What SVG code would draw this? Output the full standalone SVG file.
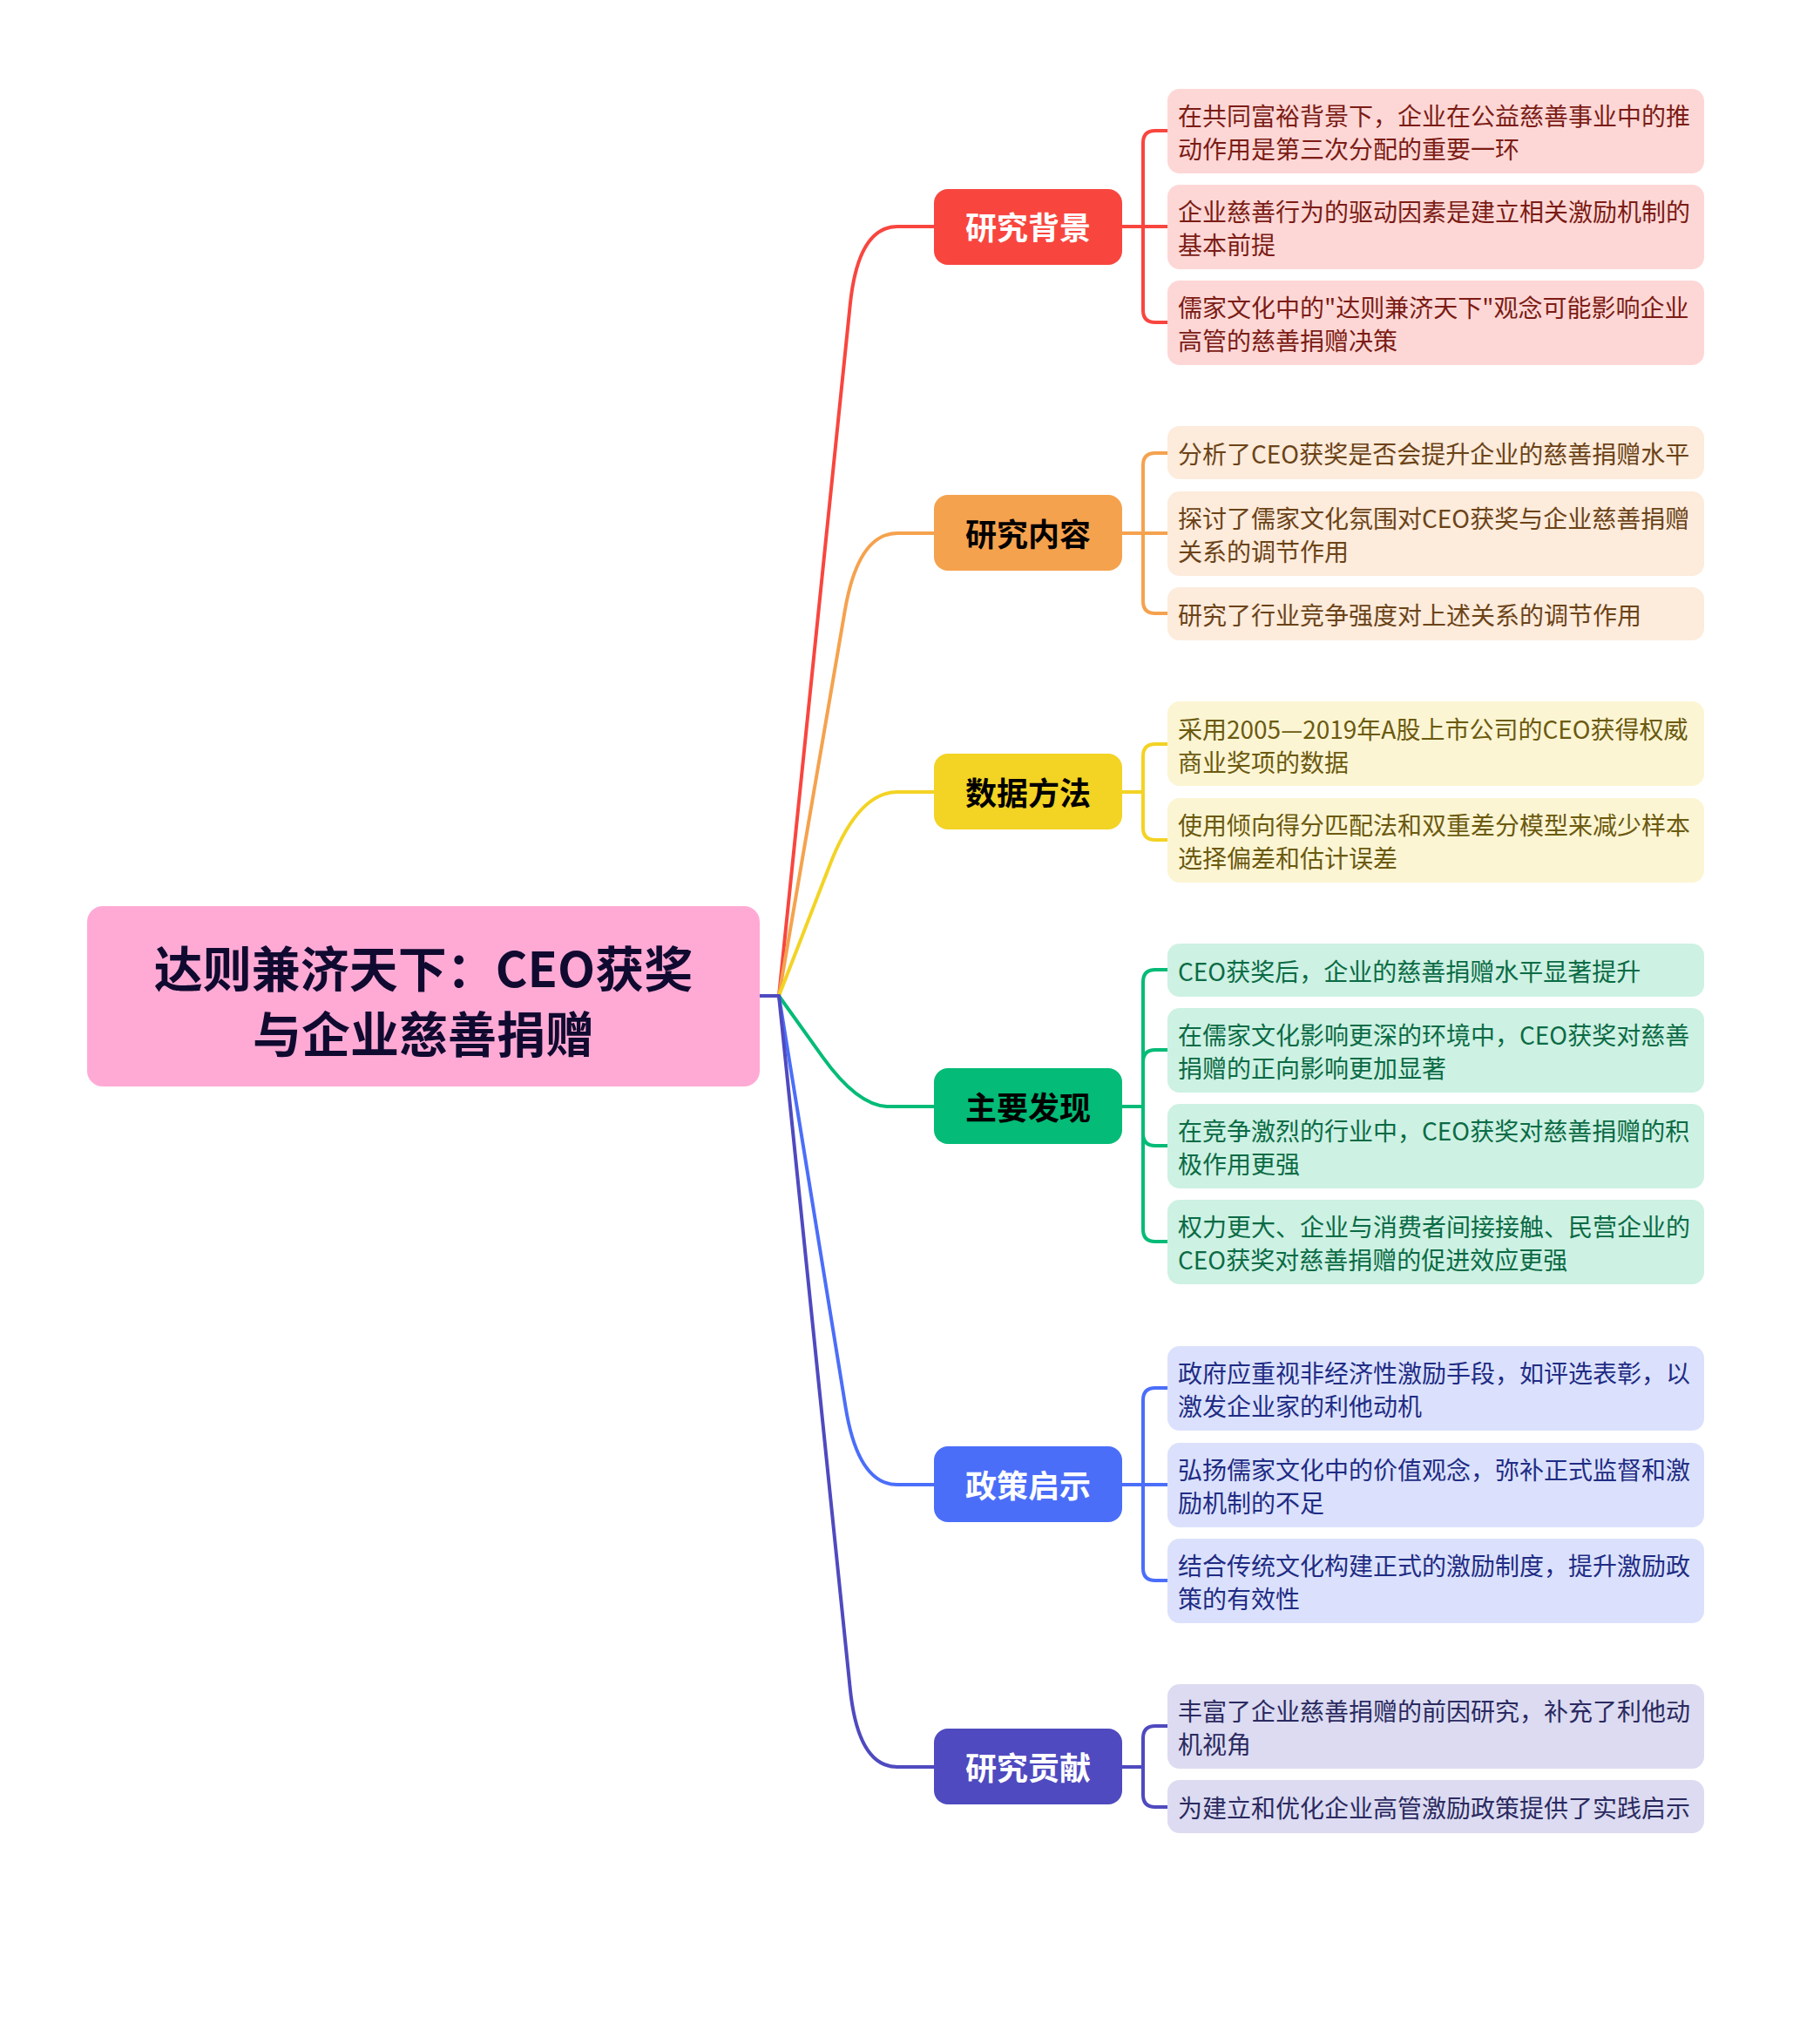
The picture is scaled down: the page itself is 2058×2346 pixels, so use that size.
<svg xmlns="http://www.w3.org/2000/svg" width="2058" height="2346" viewBox="0 0 2058 2346">
<style>
text{font-family:"Noto Sans CJK SC","Noto Sans",sans-serif;dominant-baseline:central}
.root-t{font-size:56px;font-weight:700;fill:#100a30;text-anchor:middle}
.br-t{font-size:36px;font-weight:700;text-anchor:middle}
.ch-t{font-size:28px}
.ln{fill:none;stroke-width:4;stroke-linecap:round;stroke-linejoin:round}
.c-red{stroke:#f8463f}.c-orange{stroke:#f5a24e}.c-yellow{stroke:#f3d324}.c-green{stroke:#04bb77}.c-blue{stroke:#4b6ef9}.c-purple{stroke:#4f4abf}
.f-red{fill:#fdd7d6}.f-orange{fill:#fdebdb}.f-yellow{fill:#fcf5d3}.f-green{fill:#cdf1e3}.f-blue{fill:#dbe1fc}.f-purple{fill:#dcdbf1}
.t-red{fill:#7b1c15}.t-orange{fill:#6b4318}.t-yellow{fill:#6b5a10}.t-green{fill:#0b6b45}.t-blue{fill:#1f2c84}.t-purple{fill:#2b2a60}
</style>
<rect width="2058" height="2346" fill="#ffffff"/>
<g id="connectors">
<path class="ln c-red" d="M872,1143 L894,1143 L975.8,349.5 Q985,260 1030,260 L1072,260"/>
<path class="ln c-orange" d="M872,1143 L894,1143 L969.8,700.7 Q985,612 1030,612 L1072,612"/>
<path class="ln c-yellow" d="M872,1143 L894,1143 L952.4,992.9 Q985,909 1030,909 L1072,909"/>
<path class="ln c-green" d="M872,1143 L894,1143 L944.2,1213.1 Q985,1270 1020,1270 L1072,1270"/>
<path class="ln c-blue" d="M872,1143 L894,1143 L970.6,1615.2 Q985,1704 1030,1704 L1072,1704"/>
<path class="ln c-purple" d="M872,1143 L894,1143 L975.8,1938.5 Q985,2028 1030,2028 L1072,2028"/>
<path class="ln c-red" d="M1288,260 L1312,260 L1312,164 Q1312,150 1326,150 L1340,150 M1312,260 L1340,260 M1312,260 L1312,356 Q1312,370 1326,370 L1340,370"/>
<path class="ln c-orange" d="M1288,612 L1312,612 L1312,534 Q1312,520 1326,520 L1340,520 M1312,612 L1340,612 M1312,612 L1312,690 Q1312,704 1326,704 L1340,704"/>
<path class="ln c-yellow" d="M1288,909 L1312,909 L1312,868 Q1312,854 1326,854 L1340,854 M1312,909 L1312,950 Q1312,964 1326,964 L1340,964"/>
<path class="ln c-green" d="M1288,1270 L1312,1270 L1312,1127 Q1312,1113 1326,1113 L1340,1113 M1312,1270 L1312,1219 Q1312,1205 1326,1205 L1340,1205 M1312,1270 L1312,1301 Q1312,1315 1326,1315 L1340,1315 M1312,1270 L1312,1411 Q1312,1425 1326,1425 L1340,1425"/>
<path class="ln c-blue" d="M1288,1704 L1312,1704 L1312,1607 Q1312,1593 1326,1593 L1340,1593 M1312,1704 L1340,1704 M1312,1704 L1312,1800 Q1312,1814 1326,1814 L1340,1814"/>
<path class="ln c-purple" d="M1288,2028 L1312,2028 L1312,1995 Q1312,1981 1326,1981 L1340,1981 M1312,2028 L1312,2060 Q1312,2074 1326,2074 L1340,2074"/>
</g>
<g id="root">
<rect x="100" y="1040" width="772" height="207" rx="18" fill="#ffaad4"/>
<text class="root-t" x="486" y="1108">达则兼济天下：CEO获奖</text>
<text class="root-t" x="486" y="1183">与企业慈善捐赠</text>
</g>
<g id="b1">
<rect x="1072" y="217" width="216" height="87" rx="16" fill="#f8463f"/>
<text class="br-t" x="1180" y="259" fill="#ffffff">研究背景</text>
</g>
<g id="b1c1"><rect class="f-red" x="1340" y="102" width="616" height="97" rx="14"/><text class="ch-t t-red" x="1352" y="132">在共同富裕背景下，企业在公益慈善事业中的推</text><text class="ch-t t-red" x="1352" y="170">动作用是第三次分配的重要一环</text></g>
<g id="b1c2"><rect class="f-red" x="1340" y="212" width="616" height="97" rx="14"/><text class="ch-t t-red" x="1352" y="242">企业慈善行为的驱动因素是建立相关激励机制的</text><text class="ch-t t-red" x="1352" y="280">基本前提</text></g>
<g id="b1c3"><rect class="f-red" x="1340" y="322" width="616" height="97" rx="14"/><text class="ch-t t-red" x="1352" y="352">儒家文化中的"达则兼济天下"观念可能影响企业</text><text class="ch-t t-red" x="1352" y="390">高管的慈善捐赠决策</text></g>
<g id="b2">
<rect x="1072" y="568" width="216" height="87" rx="16" fill="#f5a24e"/>
<text class="br-t" x="1180" y="611" fill="#000000">研究内容</text>
</g>
<g id="b2c1"><rect class="f-orange" x="1340" y="489" width="616" height="61" rx="14"/><text class="ch-t t-orange" x="1352" y="520">分析了CEO获奖是否会提升企业的慈善捐赠水平</text></g>
<g id="b2c2"><rect class="f-orange" x="1340" y="564" width="616" height="97" rx="14"/><text class="ch-t t-orange" x="1352" y="594">探讨了儒家文化氛围对CEO获奖与企业慈善捐赠</text><text class="ch-t t-orange" x="1352" y="632">关系的调节作用</text></g>
<g id="b2c3"><rect class="f-orange" x="1340" y="674" width="616" height="61" rx="14"/><text class="ch-t t-orange" x="1352" y="705">研究了行业竞争强度对上述关系的调节作用</text></g>
<g id="b3">
<rect x="1072" y="865" width="216" height="87" rx="16" fill="#f3d324"/>
<text class="br-t" x="1180" y="908" fill="#000000">数据方法</text>
</g>
<g id="b3c1"><rect class="f-yellow" x="1340" y="805" width="616" height="97" rx="14"/><text class="ch-t t-yellow" x="1352" y="836">采用2005—2019年A股上市公司的CEO获得权威</text><text class="ch-t t-yellow" x="1352" y="874">商业奖项的数据</text></g>
<g id="b3c2"><rect class="f-yellow" x="1340" y="916" width="616" height="97" rx="14"/><text class="ch-t t-yellow" x="1352" y="946">使用倾向得分匹配法和双重差分模型来减少样本</text><text class="ch-t t-yellow" x="1352" y="984">选择偏差和估计误差</text></g>
<g id="b4">
<rect x="1072" y="1226" width="216" height="87" rx="16" fill="#04bb77"/>
<text class="br-t" x="1180" y="1269" fill="#000000">主要发现</text>
</g>
<g id="b4c1"><rect class="f-green" x="1340" y="1083" width="616" height="61" rx="14"/><text class="ch-t t-green" x="1352" y="1114">CEO获奖后，企业的慈善捐赠水平显著提升</text></g>
<g id="b4c2"><rect class="f-green" x="1340" y="1157" width="616" height="97" rx="14"/><text class="ch-t t-green" x="1352" y="1187">在儒家文化影响更深的环境中，CEO获奖对慈善</text><text class="ch-t t-green" x="1352" y="1225">捐赠的正向影响更加显著</text></g>
<g id="b4c3"><rect class="f-green" x="1340" y="1267" width="616" height="97" rx="14"/><text class="ch-t t-green" x="1352" y="1297">在竞争激烈的行业中，CEO获奖对慈善捐赠的积</text><text class="ch-t t-green" x="1352" y="1335">极作用更强</text></g>
<g id="b4c4"><rect class="f-green" x="1340" y="1377" width="616" height="97" rx="14"/><text class="ch-t t-green" x="1352" y="1407">权力更大、企业与消费者间接接触、民营企业的</text><text class="ch-t t-green" x="1352" y="1445">CEO获奖对慈善捐赠的促进效应更强</text></g>
<g id="b5">
<rect x="1072" y="1660" width="216" height="87" rx="16" fill="#4b6ef9"/>
<text class="br-t" x="1180" y="1703" fill="#ffffff">政策启示</text>
</g>
<g id="b5c1"><rect class="f-blue" x="1340" y="1545" width="616" height="97" rx="14"/><text class="ch-t t-blue" x="1352" y="1575">政府应重视非经济性激励手段，如评选表彰，以</text><text class="ch-t t-blue" x="1352" y="1613">激发企业家的利他动机</text></g>
<g id="b5c2"><rect class="f-blue" x="1340" y="1656" width="616" height="97" rx="14"/><text class="ch-t t-blue" x="1352" y="1686">弘扬儒家文化中的价值观念，弥补正式监督和激</text><text class="ch-t t-blue" x="1352" y="1724">励机制的不足</text></g>
<g id="b5c3"><rect class="f-blue" x="1340" y="1766" width="616" height="97" rx="14"/><text class="ch-t t-blue" x="1352" y="1796">结合传统文化构建正式的激励制度，提升激励政</text><text class="ch-t t-blue" x="1352" y="1834">策的有效性</text></g>
<g id="b6">
<rect x="1072" y="1984" width="216" height="87" rx="16" fill="#4f4abf"/>
<text class="br-t" x="1180" y="2027" fill="#ffffff">研究贡献</text>
</g>
<g id="b6c1"><rect class="f-purple" x="1340" y="1933" width="616" height="97" rx="14"/><text class="ch-t t-purple" x="1352" y="1963">丰富了企业慈善捐赠的前因研究，补充了利他动</text><text class="ch-t t-purple" x="1352" y="2001">机视角</text></g>
<g id="b6c2"><rect class="f-purple" x="1340" y="2043" width="616" height="61" rx="14"/><text class="ch-t t-purple" x="1352" y="2074">为建立和优化企业高管激励政策提供了实践启示</text></g>
</svg>
